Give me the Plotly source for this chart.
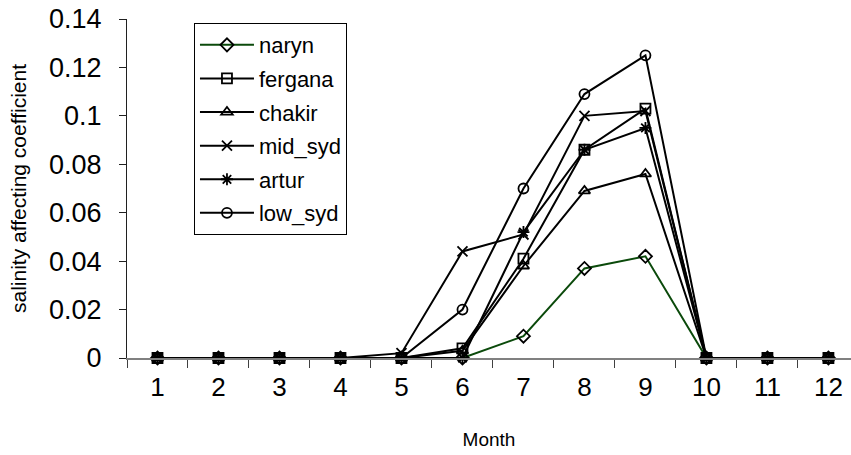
import plotly.graph_objects as go

months = list(range(1, 13))
month_labels = [str(m) for m in months]

naryn = [0, 0, 0, 0, 0, 0, 0.009, 0.037, 0.042, 0, 0, 0]
fergana = [0, 0, 0, 0, 0, 0.004, 0.041, 0.086, 0.103, 0, 0, 0]
chakir = [0, 0, 0, 0, 0, 0.003, 0.038, 0.069, 0.076, 0, 0, 0]
mid_syd = [0, 0, 0, 0, 0.002, 0.044, 0.051, 0.100, 0.102, 0, 0, 0]
artur = [0, 0, 0, 0, 0, 0, 0.052, 0.086, 0.095, 0, 0, 0]
low_syd = [0, 0, 0, 0, 0, 0.020, 0.070, 0.109, 0.125, 0, 0, 0]

y_ticks = [0, 0.02, 0.04, 0.06, 0.08, 0.1, 0.12, 0.14]
y_tick_text = ["0", "0.02", "0.04", "0.06", "0.08", "0.1", "0.12", "0.14"]

series = [
    ("naryn", naryn, "diamond-open", "#0b4a0b"),
    ("fergana", fergana, "square-open", "#000000"),
    ("chakir", chakir, "triangle-up-open", "#000000"),
    ("mid_syd", mid_syd, "x-thin-open", "#000000"),
    ("artur", artur, "asterisk-open", "#000000"),
    ("low_syd", low_syd, "circle-open", "#000000"),
]

fig = go.Figure()
for name, vals, symbol, color in series:
    fig.add_trace(go.Scatter(
        x=months, y=vals, name=name, mode="lines+markers",
        legendgroup=name,
        line=dict(color=color, width=2),
        marker=dict(symbol=symbol, size=10, color="#000000",
                    line=dict(color="#000000", width=1.8)),
        cliponaxis=False,
    ))

font_family = "Liberation Sans, Arial, sans-serif"

fig.update_layout(
    width=851, height=455,
    margin=dict(l=127, r=0, t=19, b=97),
    paper_bgcolor="white", plot_bgcolor="white",
    font=dict(family=font_family, color="black"),
    showlegend=True,
    legend=dict(
        x=0.0925, y=0.988, xref="paper", yref="paper",
        xanchor="left", yanchor="top",
        bgcolor="white", bordercolor="black", borderwidth=1,
        font=dict(size=22, family=font_family, color="black"),
        tracegroupgap=2,
        itemwidth=54,
        entrywidth=106,
    ),
    xaxis=dict(
        range=[0.5, 12.37],
        tickvals=months, ticktext=month_labels,
        ticks="", showgrid=False, zeroline=False,
        showline=True, linecolor="#808080", linewidth=2,
        tickfont=dict(size=26, family=font_family),
        ticklabelstandoff=5,
        minor=dict(tickvals=[m + 0.5 for m in range(0, 13)], ticks="outside",
                   ticklen=8, tickcolor="#404040", tickwidth=1, showgrid=False),
        title=dict(text="Month", font=dict(size=19, family=font_family), standoff=31),
    ),
    yaxis=dict(
        range=[0, 0.14],
        tickvals=y_ticks, ticktext=y_tick_text,
        ticks="outside", ticklen=7, tickcolor="#202020", tickwidth=1,
        showgrid=False, zeroline=False,
        showline=True, linecolor="#202020", linewidth=1,
        tickfont=dict(size=27, family=font_family),
        ticklabelstandoff=12,
        title=dict(text="salinity affecting coefficient",
                   font=dict(size=21, family=font_family), standoff=16),
    ),
)

fig.write_html("out.html")
